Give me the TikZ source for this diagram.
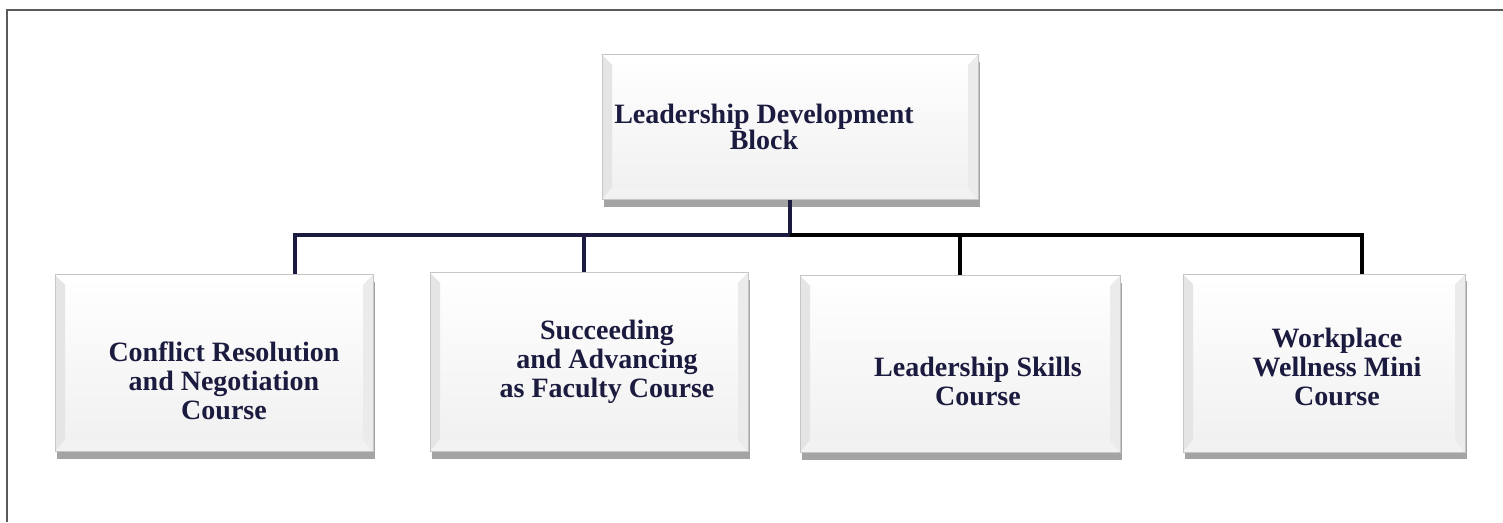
\documentclass[tikz,border=0pt]{standalone}
\usepackage{fontspec}
\setmainfont{Liberation Serif}
\usetikzlibrary{shadows}
\definecolor{inkblue}{HTML}{1B1B3F}
\definecolor{framegray}{HTML}{5A5A5A}

\tikzset{
  bevel/.style={path picture={
    \coordinate (sw) at (path picture bounding box.south west);
    \coordinate (se) at (path picture bounding box.south east);
    \coordinate (nw) at (path picture bounding box.north west);
    \coordinate (ne) at (path picture bounding box.north east);
    \fill[gray!20] (sw) -- (nw) -- ([shift={(10pt,-10pt)}]nw) -- ([shift={(10pt,12pt)}]sw) -- cycle;
    \fill[gray!10] (sw) -- (se) -- ([shift={(-10pt,12pt)}]se) -- ([shift={(10pt,12pt)}]sw) -- cycle;
    \fill[gray!16] (se) -- (ne) -- ([shift={(-10pt,-10pt)}]ne) -- ([shift={(-10pt,12pt)}]se) -- cycle;
    \fill[white] (nw) -- (ne) -- ([shift={(-10pt,-10pt)}]ne) -- ([shift={(10pt,-10pt)}]nw) -- cycle;
  }},
  card/.style={draw=gray!45, line width=1pt, top color=white, bottom color=gray!12,
    drop shadow={shadow xshift=2pt, shadow yshift=-7pt, opacity=.55, fill=gray!70!black},
    bevel, inner sep=0pt},
  cardtext/.style={align=center, text=inkblue, inner sep=0pt,
    font=\fontsize{28}{29}\selectfont\bfseries},
  link/.style={line width=4.5pt}
}

\begin{document}
\begin{tikzpicture}[x=1pt, y=-1pt]
\useasboundingbox (0,0) rectangle (1503,522);
\draw[framegray, line width=2pt] (7,522) -- (7,10) -- (1503,10);

\node[card, minimum width=376pt, minimum height=145pt,
  label={[cardtext, font=\fontsize{28}{23}\selectfont\bfseries, xshift=-26pt, yshift=0pt]center:Leadership Development\\Block}] (ldb) at (790,127) {};

\node[card, minimum width=318pt, minimum height=177pt,
  label={[cardtext, xshift=10pt, yshift=-18pt]center:Conflict Resolution\\and Negotiation\\Course}] (crc) at (214,363) {};
\node[card, minimum width=318pt, minimum height=179pt,
  label={[cardtext, xshift=18pt]center:Succeeding\\and Advancing\\as Faculty Course}] (sac) at (589,362) {};
\node[card, minimum width=320pt, minimum height=177pt,
  label={[cardtext, xshift=18pt, yshift=-17pt]center:Leadership Skills\\Course}] (lsc) at (960,364) {};
\node[card, minimum width=282pt, minimum height=178pt,
  label={[cardtext, xshift=13pt, yshift=-4pt]center:Workplace\\Wellness Mini\\Course}] (wwc) at (1324,363) {};

\coordinate (bus) at (790,235);
\draw[link, inkblue] (ldb.south) -- (bus);
\draw[link, inkblue] (bus) -| ([xshift=81pt]crc.north);
\draw[link, inkblue] (bus) -| ([xshift=-5pt]sac.north);
\draw[link, black] (bus) -| (lsc.north);
\draw[link, black] (bus) -| ([xshift=38pt]wwc.north);
\end{tikzpicture}
\end{document}
